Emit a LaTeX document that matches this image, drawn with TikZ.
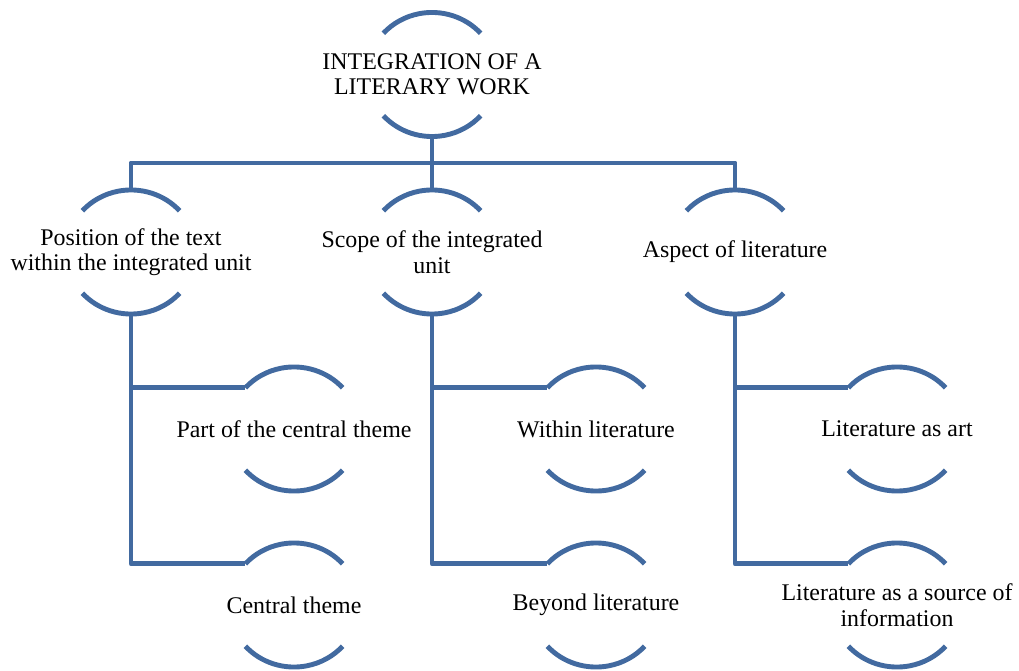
\documentclass[tikz,border=0pt]{standalone}
\usepackage{fontspec}
\setmainfont{Liberation Serif}
\usetikzlibrary{calc}
\definecolor{capblue}{RGB}{66,106,160}
\tikzset{
  lbl/.style={align=center, inner sep=0pt, font=\fontsize{23.9}{25.5}\selectfont, text=black},
  capline/.style={draw=capblue, line width=4.9pt, line cap=butt},
  conn/.style={draw=capblue, line width=4.9pt, line join=round}
}
\newcommand\capnode[4]{%
  \node[lbl] (#1) at (#2,#3) {#4};
  \coordinate (#1-t) at (#2,{#3+62});
  \coordinate (#1-b) at (#2,{#3-62});
  \coordinate (#1-tl) at ({#2-48.6},{#3+41.2});
  \coordinate (#1-tr) at ({#2+48.6},{#3+41.2});
  \coordinate (#1-bl) at ({#2-48.6},{#3-41.2});
  \draw[capline] (#1-tr) arc[start angle=41.6, end angle=138.4, x radius=65pt, y radius=62pt];
  \draw[capline] (#1-bl) arc[start angle=221.6, end angle=318.4, x radius=65pt, y radius=62pt];
}
\begin{document}
\begin{tikzpicture}[x=1pt, y=1pt]
\useasboundingbox (0,0) rectangle (1019,670);
\capnode{top}{432}{595.5}{INTEGRATION OF A\\LITERARY WORK}
\capnode{p1}{131}{418}{Position of the text\\within the integrated unit}
\capnode{p2}{432}{418}{Scope of the integrated\\unit}
\capnode{p3}{735}{418}{Aspect of literature}
\capnode{a1}{294}{241}{Part of the central theme}
\capnode{b1}{294}{65}{Central theme}
\capnode{a2}{596}{241}{Within literature}
\capnode{b2}{596}{65}{Beyond literature}
\capnode{a3}{897}{241}{Literature as art}
\capnode{b3}{897}{65}{Literature as a source of\\information}
\coordinate (bus) at (0,507);
\draw[conn] (top-b) -- (top-b |- bus);
\draw[conn] (p1-t) -- (p1-t |- bus) -| (p3-t);
\draw[conn] (p2-t |- bus) -- (p2-t);
\draw[conn] (p1-b) |- (a1-tl);
\draw[conn] (p1-b) |- (b1-tl);
\draw[conn] (p2-b) |- (a2-tl);
\draw[conn] (p2-b) |- (b2-tl);
\draw[conn] (p3-b) |- (a3-tl);
\draw[conn] (p3-b) |- (b3-tl);
\end{tikzpicture}
\end{document}
